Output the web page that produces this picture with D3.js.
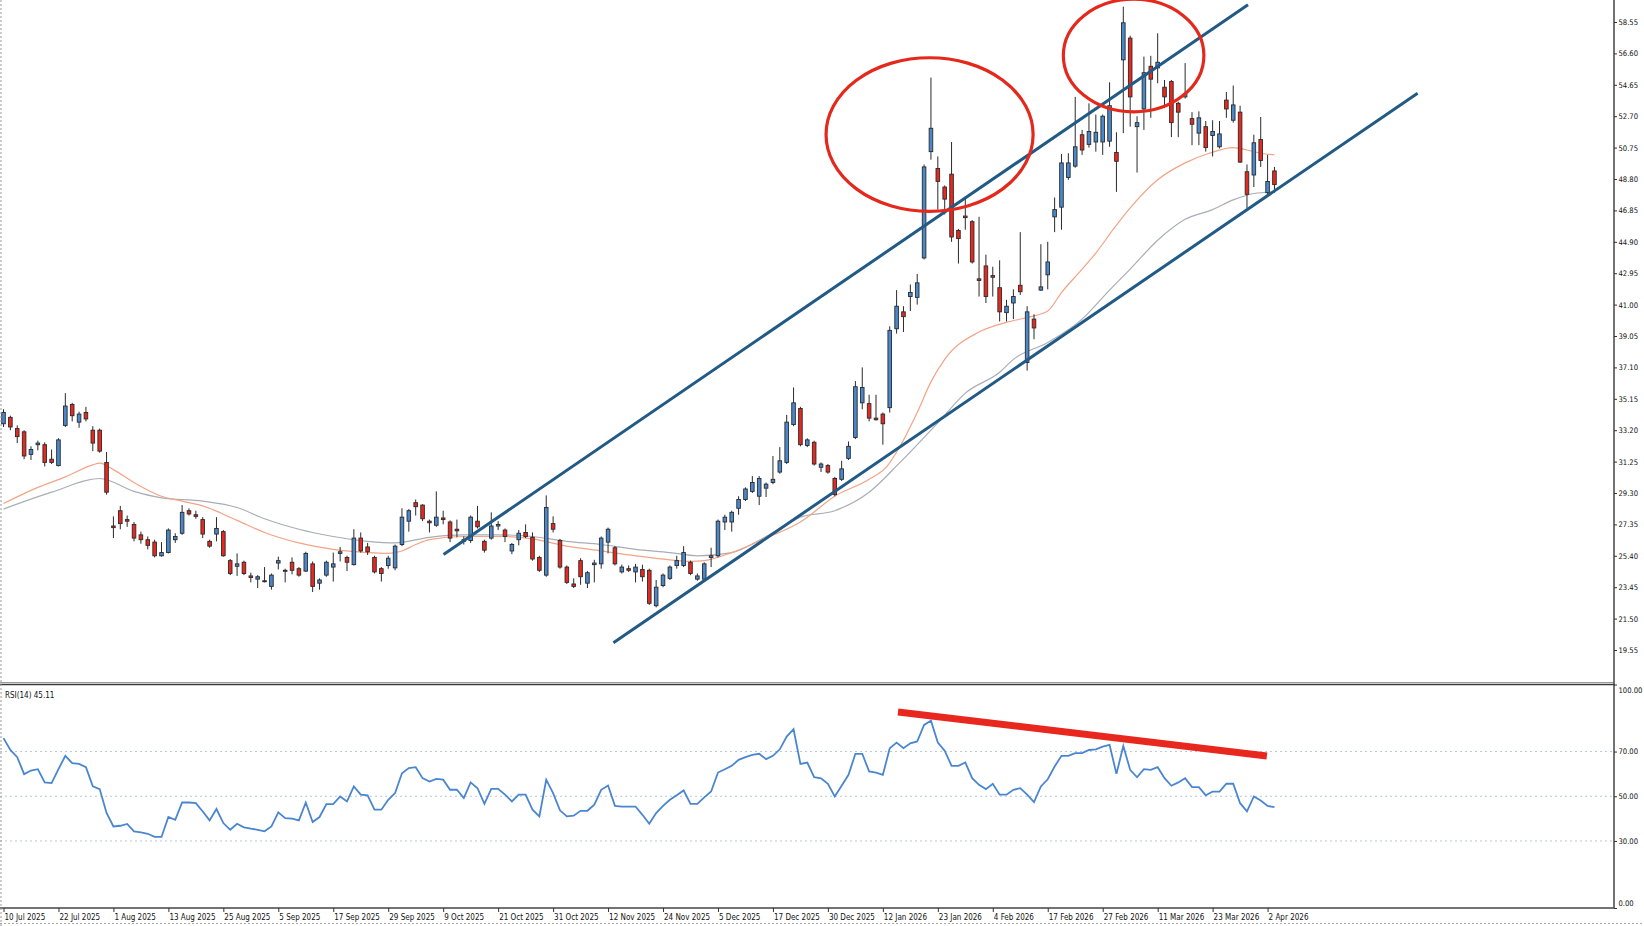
<!DOCTYPE html>
<html><head><meta charset="utf-8">
<script src="https://cdn.jsdelivr.net/npm/d3@7"></script>
<style>
html,body{margin:0;padding:0;background:#fff;overflow:hidden}
svg{display:block}
text{font-family:"DejaVu Sans Condensed","Liberation Sans Narrow","Liberation Sans",sans-serif;fill:#111}
</style></head><body>
<svg id="c" width="1644" height="926"></svg>
<script>
// ---------- DATA ----------
const opens = [33.6,34.0,33.3,33.1,31.7,32.3,32.3,31.4,31.0,33.5,34.8,33.7,34.3,33.2,33.2,31.2,27.25,28.2,27.65,27.35,
26.7,26.4,26.25,25.4,25.6,26.4,26.8,28.2,27.95,27.65,26.3,26.75,26.9,25.1,24.75,25.0,24.15,23.95,23.85,23.5,
24.95,24.5,25.0,24.6,24.45,24.9,23.7,24.2,24.7,25.55,25.3,24.85,26.5,25.95,25.3,24.6,24.8,24.65,26.1,27.55,
28.7,28.55,27.55,27.3,27.75,27.5,27.05,26.4,26.35,27.55,26.3,26.5,27.25,27.0,25.7,26.4,26.85,26.55,25.3,24.2,
27.4,26.35,24.7,23.65,25.1,23.7,24.85,24.9,26.25,25.9,24.4,24.6,24.4,24.55,24.5,22.3,23.55,24.0,24.8,24.8,
25.0,23.95,23.95,25.3,25.4,27.5,27.5,28.35,28.9,29.4,29.1,29.6,29.95,30.6,31.2,33.55,34.55,32.25,32.45,30.9,
31.0,30.2,30.15,31.45,32.75,34.9,34.85,33.95,34.2,34.6,39.5,40.55,41.5,41.45,43.9,50.5,49.45,48.3,49.1,45.6,
46.5,46.15,42.6,43.4,42.8,42.05,40.5,41.1,42.2,37.4,40.1,41.9,42.85,46.45,47.05,48.9,49.6,51.55,50.95,51.1,
51.1,51.15,50.45,56.2,57.55,52.05,53.15,55.8,55.7,54.5,54.85,53.5,53.9,52.55,51.65,52.05,51.5,50.8,53.7,52.45,
52.95,49.25,49.05,51.25,47.95,49.3];
const highs = [34.5,34.1,33.5,33.2,32.2,32.55,32.45,32.0,32.7,35.5,34.9,34.35,34.65,33.45,33.3,31.85,27.85,28.5,27.9,27.5,
26.9,26.6,26.4,26.25,27.1,26.8,28.55,28.35,28.2,27.8,26.4,27.8,27.0,25.2,25.55,25.1,24.35,24.2,24.7,24.3,
25.35,24.6,25.3,24.7,25.65,25.05,24.0,25.1,25.6,25.95,25.4,27.05,26.85,26.2,25.4,24.7,25.4,26.1,28.35,28.3,
28.9,28.6,27.65,29.4,28.2,27.6,27.65,26.6,27.9,28.5,26.4,28.1,27.55,27.1,26.2,27.0,27.35,26.85,25.4,29.15,
27.85,26.45,24.8,24.0,25.25,24.45,25.15,26.6,27.15,26.0,24.85,24.8,24.9,24.85,24.6,23.9,24.3,24.8,25.4,26.0,
25.1,24.3,25.0,25.9,27.65,27.95,28.2,29.1,29.65,30.35,30.35,29.95,31.6,32.15,34.15,35.85,34.65,32.7,32.55,31.2,
31.1,30.3,31.3,32.5,36.25,37.1,35.4,35.4,34.3,39.65,41.9,40.9,42.25,42.9,49.7,55.1,50.2,48.4,51.1,45.7,
47.7,46.25,46.45,44.1,43.35,43.75,41.3,41.95,45.5,40.9,40.4,44.75,44.9,47.65,50.35,50.4,53.9,51.85,53.5,52.8,
52.8,54.8,51.7,59.5,57.7,52.7,56.4,56.45,57.85,54.95,54.95,53.6,56.0,52.95,53.0,52.4,52.45,52.4,54.2,54.6,
53.35,49.7,51.55,52.65,50.3,49.55];
const lows = [33.4,33.2,32.4,31.4,31.35,31.95,30.95,31.1,30.95,33.4,33.75,33.35,33.75,31.9,31.8,29.2,26.5,27.05,27.2,26.3,
26.15,25.8,25.3,25.35,25.55,26.2,26.7,27.9,27.7,26.5,25.9,26.3,25.35,24.2,24.15,24.2,23.75,23.4,23.75,23.3,
24.55,23.75,24.25,24.1,24.4,23.15,23.3,24.1,23.8,25.05,24.45,24.8,25.6,25.45,24.3,23.8,24.6,24.5,26.0,26.9,
27.9,27.55,26.85,27.2,27.35,26.25,26.55,26.1,26.2,27.1,25.6,26.4,27.0,26.25,25.5,26.05,26.5,25.1,24.4,24.1,
26.85,24.6,23.65,23.4,23.6,23.4,23.75,24.6,25.55,24.8,24.3,24.4,23.75,23.8,22.35,22.2,23.45,23.9,24.6,24.7,
24.2,23.85,23.85,24.7,25.3,27.0,26.9,27.95,28.8,29.3,28.55,29.05,29.85,30.5,31.1,33.45,32.2,32.15,31.0,30.6,
30.5,29.1,30.05,31.35,32.65,34.5,33.75,33.8,32.3,34.3,39.2,39.3,40.6,41.0,43.8,50.0,46.9,46.6,44.9,43.55,
45.65,43.55,41.5,41.1,41.5,39.95,39.95,40.1,41.6,36.9,38.85,41.85,41.95,45.5,45.65,48.75,49.5,50.3,50.75,50.5,
50.3,50.8,48.0,51.65,52.05,49.2,51.85,52.6,54.75,53.2,51.4,51.4,53.8,50.9,50.9,50.5,50.2,50.7,52.6,52.3,
49.8,47.0,48.3,49.55,47.8,47.95];
const closes = [34.3,33.4,32.8,31.6,32.0,32.4,31.2,31.2,32.6,34.7,34.1,34.2,33.9,32.4,31.9,29.35,27.15,27.4,27.55,26.5,
26.4,26.05,25.4,25.6,27.0,26.6,28.1,28.0,27.85,26.75,26.0,27.1,25.4,24.3,24.9,24.3,24.05,24.1,23.8,24.2,
25.1,24.45,24.5,24.2,25.55,23.5,23.9,25.0,24.9,25.65,25.0,26.5,25.7,25.65,24.4,24.3,25.25,26.0,27.8,28.2,
28.45,27.7,27.45,27.8,27.65,26.5,26.95,26.3,27.8,27.2,25.75,27.25,27.35,26.6,26.1,26.8,26.6,25.2,24.5,28.4,
27.05,24.7,23.75,23.5,24.1,24.35,24.95,26.5,27.05,24.9,24.7,24.5,24.7,24.1,22.45,23.45,24.2,24.7,25.1,25.6,
24.3,24.15,24.9,25.4,27.55,27.8,28.1,28.9,29.55,29.95,30.2,29.85,30.15,31.3,33.7,34.9,32.3,32.6,31.1,31.1,
30.6,29.2,30.8,32.2,35.9,35.85,33.95,33.85,33.6,39.4,40.9,40.25,41.75,42.35,49.55,51.95,48.65,47.55,45.2,45.1,
46.4,43.65,42.5,41.5,42.7,40.55,40.9,41.5,41.8,40.55,39.55,42.1,43.65,46.9,49.8,49.8,50.8,50.6,51.75,51.7,
52.7,53.35,49.9,58.5,53.9,52.3,55.4,55.0,56.05,53.9,52.3,52.95,54.1,52.2,52.6,50.75,51.75,51.6,53.15,53.4,
49.85,47.85,51.05,49.95,48.65,48.45];

// moving averages, sampled at bar positions
const maFastBars = [0,5,9,13,14,16,19,23,26,29,34,38,43,48,53,56,58,60,62,67,72,77,82,87,92,97,100,102,106,111,116,121,126,128.6,130.5,133,135,137,142,146,149,152,154,157,159,161.5,164,168,172,175.5,179,181,183,185];
const maFastVals = [28.65,29.65,30.3,31.05,31.15,30.75,29.95,29.1,28.8,28.5,27.6,26.85,26.2,25.8,25.6,25.55,25.7,26.1,26.4,26.6,26.6,26.45,26.0,25.7,25.4,25.15,25.05,25.1,25.6,26.5,27.5,29.1,30.15,30.95,32.2,34.3,36.2,37.6,39.3,39.9,40.2,40.6,41.75,43.2,44.2,45.65,47.0,48.75,49.8,50.4,50.75,50.6,50.4,50.3];
const maSlowBars = [0,7,14,19,23,29,34,38,43,48,53,57,62,67,72,77,82,87,92,97,101,106,111,116,121,126,130.5,136.3,140,145,147,152,157,161,164,168,172,176,179,182,185];
const maSlowVals = [28.3,29.35,30.2,29.4,29.0,28.8,28.4,27.7,27.05,26.6,26.3,26.2,26.55,26.7,26.7,26.6,26.3,26.1,25.8,25.6,25.4,25.6,26.6,27.8,28.2,29.35,31.2,33.8,35.5,36.8,37.6,38.65,40.1,41.9,43.2,45.0,46.3,46.9,47.5,47.9,48.0];

const rsi = [76.0,70.7,67.5,59.9,61.5,62.1,56.2,55.9,62.1,68.1,64.8,64.5,63.0,54.4,53.2,42.5,36.5,36.8,37.6,34.3,
33.8,33.2,31.8,31.8,40.7,39.5,47.2,47.2,46.9,43.2,39.2,44.3,38.0,35.0,37.7,36.1,35.5,35.0,34.3,36.5,
42.8,40.2,40.0,39.2,47.2,38.5,40.7,46.5,46.5,49.9,47.7,54.4,50.7,50.4,44.0,44.0,48.4,51.4,60.3,62.6,
63.0,58.1,56.6,57.8,57.4,52.9,52.9,49.2,56.2,53.6,46.6,53.3,53.3,50.7,47.7,50.7,50.7,44.0,41.0,57.4,
51.4,43.7,41.0,41.3,43.5,43.5,46.2,52.9,54.8,45.7,45.4,45.4,45.4,41.7,37.7,42.5,45.7,48.4,50.5,52.6,
46.6,46.6,49.5,52.1,60.6,62.1,63.6,66.3,67.5,68.5,69.0,66.6,68.1,71.0,76.7,80.0,64.5,65.1,58.5,58.0,
55.6,49.9,54.7,59.6,69.0,69.0,61.1,60.6,59.6,71.5,74.0,71.5,73.7,74.5,81.9,83.8,74.0,70.4,63.6,63.6,
65.1,58.1,55.1,53.2,55.6,50.7,50.7,52.9,53.6,50.7,47.4,54.4,57.6,63.3,68.1,68.1,69.3,69.3,70.7,71.0,
72.2,73.0,60.0,72.5,61.8,58.5,62.1,61.8,63.0,58.1,54.7,56.2,58.1,54.1,54.1,50.4,52.1,52.1,55.6,55.6,
46.9,43.2,49.9,48.1,45.7,45.1];

const priceTicks = [58.55,56.60,54.65,52.70,50.75,48.80,46.85,44.90,42.95,41.00,39.05,37.10,35.15,33.20,31.25,29.30,27.35,25.40,23.45,21.50,19.55];
const rsiTicks = [100,70,50,30,0];
const rsiLevels = [70,50,30];
const dateLabels = ["10 Jul 2025","22 Jul 2025","1 Aug 2025","13 Aug 2025","25 Aug 2025","5 Sep 2025","17 Sep 2025","29 Sep 2025","9 Oct 2025","21 Oct 2025","31 Oct 2025","12 Nov 2025","24 Nov 2025","5 Dec 2025","17 Dec 2025","30 Dec 2025","12 Jan 2026","23 Jan 2026","4 Feb 2026","17 Feb 2026","27 Feb 2026","11 Mar 2026","23 Mar 2026","2 Apr 2026"];
const barsPerLabel = 8;

// annotations in data units [bar, price]
const channelUpper = [[64.05,25.48],[181.15,59.62]];
const channelLower = [[88.78,20.0],[205.84,54.13]];
const circles = [{bar:134.8,price:51.56,rb:15.07,rp:4.77},{bar:164.5,price:56.47,rb:10.23,rp:3.50}];
const rsiDivergence = [[130.2,87.7],[183.9,68.0]];

// ---------- LAYOUT ----------
const W = 1644, H = 926;
const axisX = 1614, priceBottom = 683, rsiTop = 685, rsiBottom = 908;
const barStep = 6.87, firstX = 3.5;

const svg = d3.select("#c");
const x = d3.scaleLinear().domain([0, 185]).range([firstX, firstX + 185 * barStep]);
const yP = d3.scaleLinear().domain([19.55, 58.55]).range([650, 22]);
const yR = d3.scaleLinear().domain([0, 100]).range([908, 684.5]);

svg.append("rect").attr("width", W).attr("height", H).attr("fill", "#fff");

const defs = svg.append("defs");
defs.append("clipPath").attr("id", "cp").append("rect").attr("x", 0).attr("y", 0).attr("width", axisX).attr("height", priceBottom);
defs.append("clipPath").attr("id", "cr").append("rect").attr("x", 0).attr("y", rsiTop).attr("width", axisX).attr("height", rsiBottom - rsiTop);

// ---------- PRICE PANEL ----------
const gp = svg.append("g").attr("clip-path", "url(#cp)");

const line = d3.line().x(d => x(d[0])).y(d => yP(d[1])).curve(d3.curveMonotoneX);
gp.append("path").datum(maSlowBars.map((b, i) => [b, maSlowVals[i]]))
  .attr("d", line).attr("fill", "none").attr("stroke", "#a9adb6").attr("stroke-width", 1.2);
gp.append("path").datum(maFastBars.map((b, i) => [b, maFastVals[i]]))
  .attr("d", line).attr("fill", "none").attr("stroke", "#f2a486").attr("stroke-width", 1.2);

const idx = d3.range(opens.length);
const cg = gp.append("g");
cg.selectAll("line.w").data(idx).join("line")
  .attr("x1", i => x(i)).attr("x2", i => x(i))
  .attr("y1", i => yP(highs[i])).attr("y2", i => yP(lows[i]))
  .attr("stroke", "#2a2a2a").attr("stroke-width", 1);
cg.selectAll("rect.b").data(idx).join("rect")
  .attr("x", i => x(i) - 1.8).attr("width", 3.6)
  .attr("y", i => yP(Math.max(opens[i], closes[i])))
  .attr("height", i => Math.max(1, Math.abs(yP(opens[i]) - yP(closes[i]))))
  .attr("fill", i => closes[i] >= opens[i] ? "#4a88cc" : "#e8281e")
  .attr("stroke", "#2a2a2a").attr("stroke-width", 0.9);

const tl = d3.line().x(d => x(d[0])).y(d => yP(d[1]));
[channelUpper, channelLower].forEach(c => {
  gp.append("path").datum(c).attr("d", tl).attr("stroke", "#225a86").attr("stroke-width", 3).attr("fill", "none");
});
circles.forEach(c => {
  gp.append("ellipse")
    .attr("cx", x(c.bar)).attr("cy", yP(c.price))
    .attr("rx", x(c.bar + c.rb) - x(c.bar)).attr("ry", yP(c.price - c.rp) - yP(c.price))
    .attr("fill", "none").attr("stroke", "#e5281c").attr("stroke-width", 3.2);
});

// ---------- RSI PANEL ----------
const gr = svg.append("g").attr("clip-path", "url(#cr)");
gr.selectAll("line.lv").data(rsiLevels).join("line")
  .attr("x1", 0).attr("x2", axisX).attr("y1", d => yR(d)).attr("y2", d => yR(d))
  .attr("stroke", "#b8c6d4").attr("stroke-width", 1).attr("stroke-dasharray", "2,3");
gr.append("path").datum(rsi)
  .attr("d", d3.line().x((d, i) => x(i)).y(d => yR(d)))
  .attr("fill", "none").attr("stroke", "#4a86d0").attr("stroke-width", 1.8);
gr.append("path").datum(rsiDivergence)
  .attr("d", d3.line().x(d => x(d[0])).y(d => yR(d[1])))
  .attr("stroke", "#e8281e").attr("stroke-width", 7).attr("fill", "none");
svg.append("text").attr("x", 5).attr("y", 698).attr("font-size", 8).text("RSI(14) " + d3.format(".2f")(45.11));

// ---------- FRAME ----------
svg.append("line").attr("x1", 0).attr("x2", axisX).attr("y1", 682.5).attr("y2", 682.5).attr("stroke", "#9a9a9a");
svg.append("line").attr("x1", 0).attr("x2", axisX + 1).attr("y1", 684.5).attr("y2", 684.5).attr("stroke", "#3a3a3a").attr("stroke-width", 1.5);
svg.append("line").attr("x1", axisX).attr("x2", axisX).attr("y1", 0).attr("y2", rsiBottom).attr("stroke", "#444").attr("stroke-width", 1.5);
svg.append("line").attr("x1", 0).attr("x2", axisX).attr("y1", rsiBottom).attr("y2", rsiBottom).attr("stroke", "#444").attr("stroke-width", 1.5);
svg.append("line").attr("x1", 1).attr("x2", 1).attr("y1", 0).attr("y2", H).attr("stroke", "#999").attr("stroke-dasharray", "2,2");
svg.append("line").attr("x1", 0).attr("x2", W).attr("y1", 923.5).attr("y2", 923.5).attr("stroke", "#aaa").attr("stroke-dasharray", "2,2");

// price axis
const pa = svg.append("g").attr("transform", `translate(${axisX},0)`)
  .call(d3.axisRight(yP).tickValues(priceTicks).tickSize(3).tickPadding(1.5).tickFormat(d3.format(".2f")));
pa.select(".domain").remove();
pa.selectAll("text").attr("font-size", 7.6).attr("fill", "#111");
pa.selectAll("line").attr("stroke", "#333");

// rsi axis
const ra = svg.append("g").attr("transform", `translate(${axisX},0)`)
  .call(d3.axisRight(yR).tickValues(rsiTicks).tickSize(3).tickPadding(1.5).tickFormat(d3.format(".2f")));
ra.select(".domain").remove();
ra.selectAll("text").attr("font-size", 7.6).attr("fill", "#111")
  .attr("y", d => d === 100 ? 6 : d === 0 ? -5 : 0);
ra.selectAll("line").attr("stroke", "#333");

// date axis
const tickBars = dateLabels.map((d, i) => i * barsPerLabel);
const da = svg.append("g").attr("transform", `translate(0,${rsiBottom})`)
  .call(d3.axisBottom(x).tickValues(tickBars).tickSize(4).tickFormat((d, i) => dateLabels[i]));
da.select(".domain").remove();
da.selectAll("line").attr("stroke", "#333");
da.selectAll("text").attr("text-anchor", "start").attr("x", 0.5).attr("dy", 0).attr("y", 12)
  .attr("font-size", 8).attr("fill", "#111");
</script>
</body></html>
